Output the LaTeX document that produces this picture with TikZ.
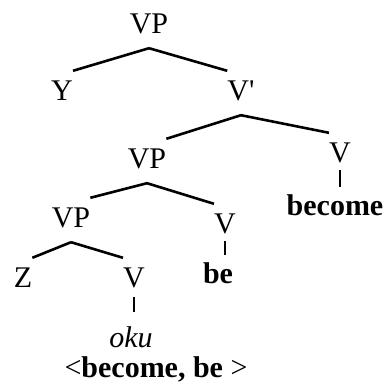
\documentclass[tikz,border=0pt]{standalone}
\usepackage{fontspec}
\setmainfont{Liberation Serif}
\tikzset{
  cat/.style={inner sep=0pt, text height=29pt, text depth=15pt, anchor=base, font=\fontsize{30}{36}\selectfont},
  leaf/.style={inner sep=0pt, text height=28pt, text depth=8pt, anchor=base, font=\fontsize{30}{36}\selectfont},
  branch/.style={line width=2.6pt},
}
\begin{document}
\begin{tikzpicture}[x=1pt,y=-1pt]
\useasboundingbox (0,0) rectangle (392,386);
\node[cat] (vp0) at (149,33) {VP};
\node[cat] (y) at (62,100) {Y};
\node[cat] (vbar) at (241,100) {V\textquotesingle};
\node[cat] (vp1) at (147,168) {VP};
\node[cat] (v1) at (340,162) {V};
\node[leaf] (become) at (335,215) {\textbf{become}};
\node[cat] (vp2) at (71,227) {VP};
\node[cat] (v2) at (225,233) {V};
\node[leaf] (be) at (218,283) {\textbf{be}};
\node[cat] (z) at (23,287) {Z};
\node[cat] (v3) at (134,287) {V};
\node[leaf] (oku) at (131,347) {\textit{oku}};
\node[leaf] (forms) at (156,377) {<\textbf{become, be} >};
\draw[branch] (vp0.south) -- (y.north east);
\draw[branch] (vp0.south) -- (vbar.north west);
\draw[branch] (vbar.south) -- (vp1.north east);
\draw[branch] (vbar.south) -- (v1.north west);
\draw[branch] (vp1.south) -- (vp2.north east);
\draw[branch] (vp1.south) -- (v2.north west);
\draw[branch] (vp2.south) -- (z.north east);
\draw[branch] (vp2.south) -- (v3.north west);
\draw[branch] ([yshift=7pt]v1.south) -- (v1.south |- become.north);
\draw[branch] ([yshift=7pt]v2.south) -- (v2.south |- be.north);
\draw[branch, shorten >=7pt] ([yshift=5pt]v3.south) -- (v3.south |- oku.north);
\end{tikzpicture}
\end{document}
